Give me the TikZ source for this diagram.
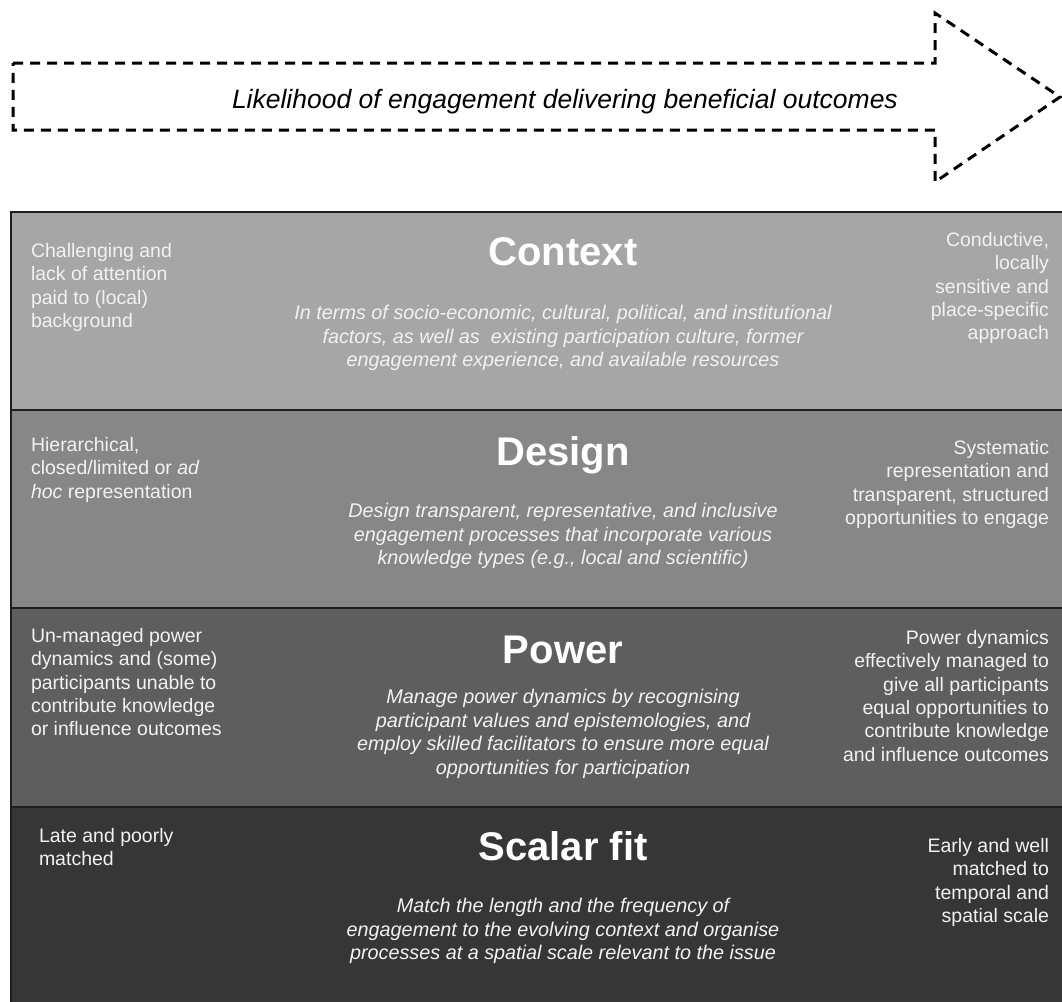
\documentclass[tikz,border=0pt]{standalone}
\usepackage{fontspec}
\setmainfont{Liberation Sans}
\usepackage{tikz}

\definecolor{contextgray}{HTML}{A6A6A6}
\definecolor{designgray}{HTML}{878787}
\definecolor{powergray}{HTML}{5E5E5E}
\definecolor{scalargray}{HTML}{363636}
\definecolor{bandline}{HTML}{1E1E1E}

\begin{document}
\begin{tikzpicture}[x=1pt,y=-1pt,
  every node/.style={inner sep=0pt, outer sep=0pt},
  band/.style={draw=bandline, line width=1.5pt},
  sidetext/.style={text=white!95!black, font=\fontsize{19.5}{23.3}\selectfont},
  titletext/.style={text=white, font=\fontsize{40}{46}\selectfont\bfseries, anchor=base},
  desctext/.style={text=white!95!black, align=center, anchor=north, font=\fontsize{19.8}{23.5}\selectfont\itshape}]
\useasboundingbox (0,0) rectangle (1062,1001);

% arrow
\draw[line width=3pt, dash pattern=on 10pt off 7pt] (13,63) -- (935,63) -- (935,13) -- (1060,97) -- (935,182) -- (935,130) -- (13,130) -- cycle;
\node[anchor=base west, font=\fontsize{26.5}{30}\selectfont\itshape] (likelihood) at (232,108) {Likelihood of engagement delivering beneficial outcomes};

% bands
\filldraw[band, fill=contextgray] (11,212) rectangle (1063,410);
\filldraw[band, fill=designgray] (11,410) rectangle (1063,608);
\filldraw[band, fill=powergray] (11,608) rectangle (1063,807);
\filldraw[band, fill=scalargray] (11,807) rectangle (1063,1003);

% context
\node[titletext] (contexttitle) at (563,265) {Context};
\node[desctext] (contextdesc) at (563,305.5) {In terms of socio-economic, cultural, political, and institutional\\factors, as well as\ \ existing participation culture, former\\engagement experience, and available resources};
\node[sidetext, anchor=north west, align=left] (contextlow) at (31,243.5) {Challenging and\\lack of attention\\paid to (local)\\background};
\node[sidetext, anchor=north east, align=right] (contexthigh) at (1049,232.5) {Conductive,\\locally\\sensitive and\\place-specific\\approach};

% design
\node[titletext] (designtitle) at (563,465) {Design};
\node[desctext] (designdesc) at (563,503.5) {Design transparent, representative, and inclusive\\engagement processes that incorporate various\\knowledge types (e.g., local and scientific)};
\node[sidetext, anchor=north west, align=left] (designlow) at (31,437.5) {Hierarchical,\\closed/limited or \textit{ad}\\\textit{hoc} representation};
\node[sidetext, anchor=north east, align=right] (designhigh) at (1049,440.5) {Systematic\\representation and\\transparent, structured\\opportunities to engage};

% power
\node[titletext] (powertitle) at (563,663) {Power};
\node[desctext] (powerdesc) at (563,689.5) {Manage power dynamics by recognising\\participant values and epistemologies, and\\employ skilled facilitators to ensure more equal\\opportunities for participation};
\node[sidetext, anchor=north west, align=left] (powerlow) at (31,628.5) {Un-managed power\\dynamics and (some)\\participants unable to\\contribute knowledge\\or influence outcomes};
\node[sidetext, anchor=north east, align=right] (powerhigh) at (1049,630.5) {Power dynamics\\effectively managed to\\give all participants\\equal opportunities to\\contribute knowledge\\and influence outcomes};

% scalar fit
\node[titletext] (scalartitle) at (563,860) {Scalar fit};
\node[desctext] (scalardesc) at (563,898.5) {Match the length and the frequency of\\engagement to the evolving context and organise\\processes at a spatial scale relevant to the issue};
\node[sidetext, anchor=north west, align=left] (scalarlow) at (39,828.5) {Late and poorly\\matched};
\node[sidetext, anchor=north east, align=right] (scalarhigh) at (1049,838.5) {Early and well\\matched to\\temporal and\\spatial scale};
\end{tikzpicture}
\end{document}
